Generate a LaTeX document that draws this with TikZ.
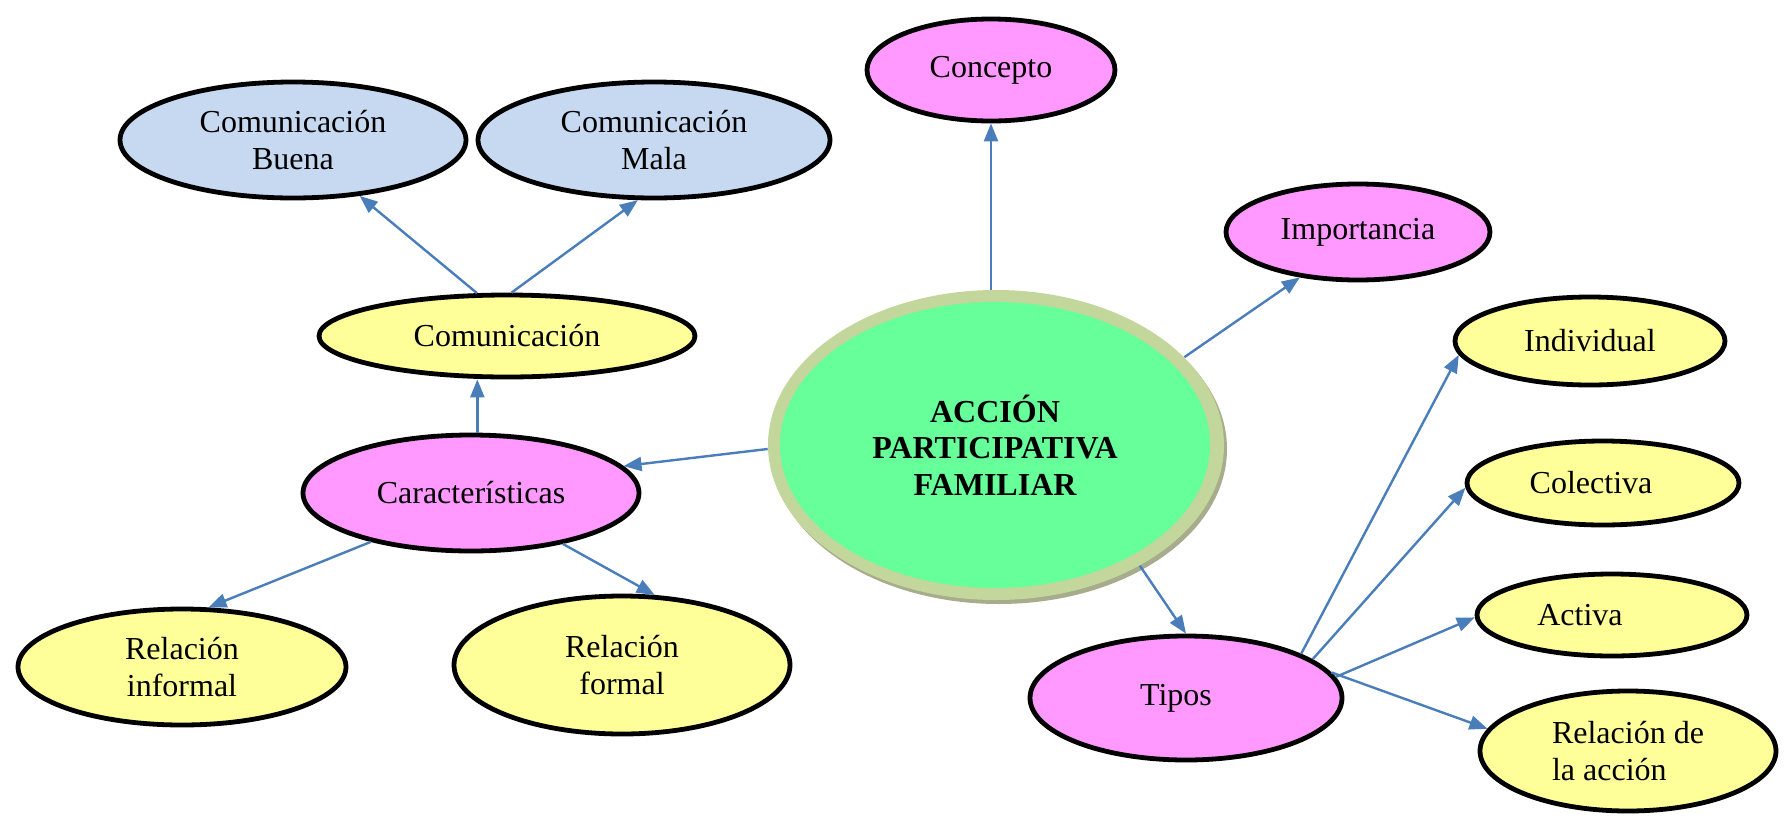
\documentclass[tikz,border=0pt]{standalone}
\usepackage{fontspec}
\setmainfont{Liberation Serif}
\usetikzlibrary{shapes.geometric}
\usetikzlibrary{arrows.meta}

\definecolor{pinkfill}{RGB}{255,153,255}
\definecolor{yellowfill}{RGB}{255,255,153}
\definecolor{bluefill}{RGB}{198,217,241}
\definecolor{greenfill}{RGB}{102,255,153}
\definecolor{ringfill}{RGB}{195,214,155}
\definecolor{ringshadow}{RGB}{166,172,140}
\definecolor{linkblue}{RGB}{74,126,187}

\tikzset{
  bubble/.style={ellipse, draw=black, line width=2.4pt, inner sep=0pt, align=center, font=\fontsize{16}{18.4}\selectfont},
  conn/.style={draw=linkblue, line width=1.2pt, -{Triangle[length=9pt,width=7pt]}},
}

\begin{document}
\begin{tikzpicture}[x=0.5pt,y=0.5pt,yscale=-1,xscale=1]
\useasboundingbox (0,0) rectangle (1785,820);

% Central Node
\node [ellipse, fill=ringshadow, minimum width=228pt, minimum height=155pt] (accionshadow) at (999,449) {};
\node [ellipse, fill=ringfill, minimum width=228pt, minimum height=155pt] (accion) at (996,445) {};
\node [ellipse, fill=greenfill, minimum width=215pt, minimum height=143pt, inner sep=0pt, align=center, font=\fontsize{16}{18.3}\selectfont\bfseries] (accionin) at (995,445) {ACCIÓN\\PARTICIPATIVA\\FAMILIAR};

% Ellipse Node
\node [bubble, fill=pinkfill, minimum width=124pt, minimum height=51pt] (concepto) at (991,70) {Concepto};
% Ellipse Node
\node [bubble, fill=pinkfill, minimum width=132pt, minimum height=48pt] (importancia) at (1358,232) {Importancia};
% Ellipse Node
\node [bubble, fill=pinkfill, minimum width=168pt, minimum height=58pt] (caracteristicas) at (471,493) {Características};
% Ellipse Node
\node [bubble, fill=pinkfill, minimum width=156pt, minimum height=62pt] (tipos) at (1186,698) {Tipos\hspace*{10pt}};
% Ellipse Node
\node [bubble, fill=yellowfill, minimum width=188pt, minimum height=41pt] (comunicacion) at (507,336) {Comunicación};
% Ellipse Node
\node [bubble, fill=bluefill, minimum width=173pt, minimum height=58pt] (buena) at (293,140) {Comunicación\\Buena};
% Ellipse Node
\node [bubble, fill=bluefill, minimum width=176pt, minimum height=58pt] (mala) at (654,140) {Comunicación\\Mala};
% Ellipse Node
\node [bubble, fill=yellowfill, minimum width=164pt, minimum height=58pt] (informal) at (182,667) {Relación\\informal};
% Ellipse Node
\node [bubble, fill=yellowfill, minimum width=168pt, minimum height=69pt] (formal) at (622,665) {Relación\\formal};
% Ellipse Node
\node [bubble, fill=yellowfill, minimum width=135pt, minimum height=44pt] (individual) at (1590,341) {Individual};
% Ellipse Node
\node [bubble, fill=yellowfill, minimum width=136pt, minimum height=42pt] (colectiva) at (1603,483) {Colectiva\hspace*{12pt}};
% Ellipse Node
\node [bubble, fill=yellowfill, minimum width=135pt, minimum height=41pt] (activa) at (1612,615) {Activa\hspace*{32pt}};
% Ellipse Node
\node [bubble, fill=yellowfill, minimum width=148pt, minimum height=60pt, align=left] (relaccion) at (1628,751) {Relación de\\la acción};

% Connection
\draw [conn] (concepto.south |- accion.north) -- (concepto.south);
% Connection
\draw [conn] (accion.25) -- (importancia.218);
% Connection
\draw [conn] (accion.181) -- (caracteristicas.10);
% Connection
\draw [conn] (accion.-40) -- (tipos.north);
% Connection
\draw [conn] (caracteristicas.84) -- (caracteristicas.84 |- comunicacion.south);
% Connection
\draw [conn] (comunicacion.125) -- (buena.-40);
% Connection
\draw [conn] (comunicacion.84) -- (mala.255);
% Connection
\draw [conn] (caracteristicas.206) -- (informal.66);
% Connection
\draw [conn] (caracteristicas.-29) -- (formal.65);
% Connection
\draw [conn] (tipos.21) -- (individual.186);
% Connection
\draw [conn] (tipos.17) -- (colectiva.182);
% Connection
\draw [conn] (tipos.8) -- (activa.181);
% Connection
\draw [conn] (tipos.10) -- (relaccion.171);

\end{tikzpicture}
\end{document}
